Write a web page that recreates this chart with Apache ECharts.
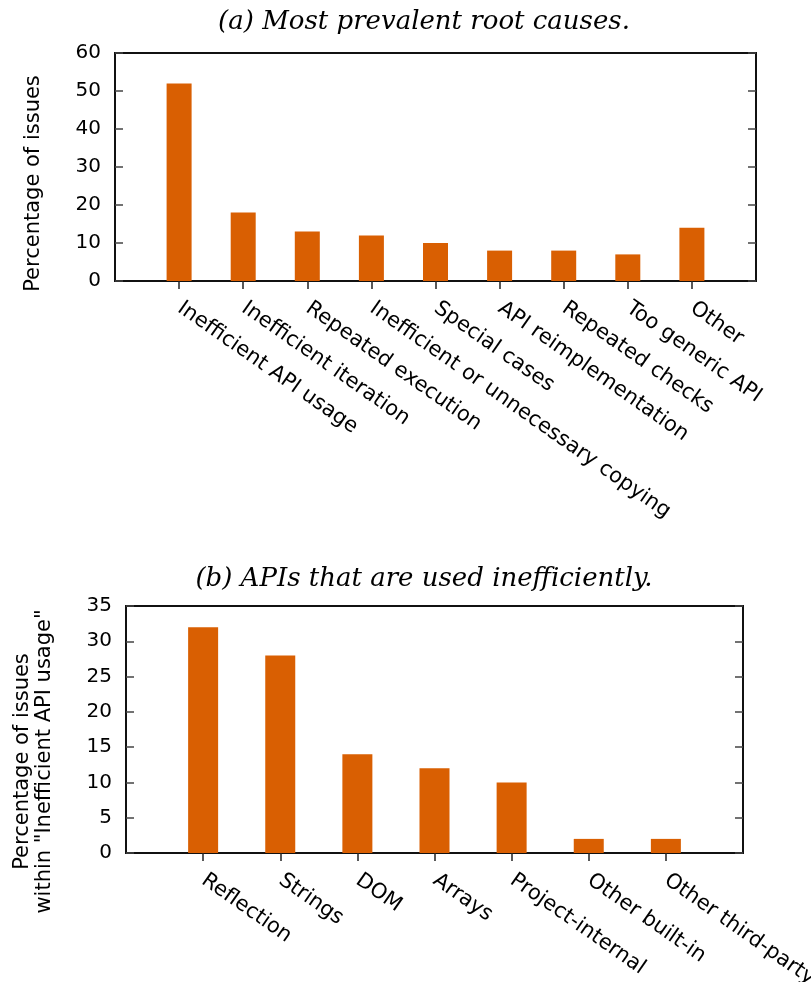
<!DOCTYPE html>
<html>
<head>
<meta charset="utf-8">
<script src="https://cdn.jsdelivr.net/npm/echarts@6/dist/echarts.min.js"></script>
<style>
html,body{margin:0;padding:0;background:#fff;}
#chart{width:811px;height:982px;}
</style>
</head>
<body>
<div id="chart"></div>
<script>
// ---- data ----
const titleA = '(a) Most prevalent root causes.';
const titleB = '(b) APIs that are used inefficiently.';
const catsA = ['Inefficient API usage', 'Inefficient iteration', 'Repeated execution',
  'Inefficient or unnecessary copying', 'Special cases', 'API reimplementation',
  'Repeated checks', 'Too generic API', 'Other'];
const valsA = [52, 18, 13, 12, 10, 8, 8, 7, 14];
const yTicksA = [0, 10, 20, 30, 40, 50, 60];
const yNameA = 'Percentage of issues';

const catsB = ['Reflection', 'Strings', 'DOM', 'Arrays', 'Project-internal',
  'Other built-in', 'Other third-party'];
const valsB = [32, 28, 14, 12, 10, 2, 2];
const yTicksB = [0, 5, 10, 15, 20, 25, 30, 35];
const yNameB = 'Percentage of issues\nwithin "Inefficient API usage"';

// ---- styling ----
const SANS = 'DejaVu Sans';
const BAR = '#D95F02';
const chart = echarts.init(document.getElementById('chart'), null, {renderer: 'canvas'});

function xAxisFor(cats, gridIndex) {
  const n = cats.length;
  return {
    type: 'category', gridIndex: gridIndex,
    data: [''].concat(cats, ['']),
    boundaryGap: false,
    axisLine: {show: false},
    axisTick: {show: true, inside: false, length: 8,
      interval: function (i) { return i > 0 && i <= n; },
      lineStyle: {color: '#222', width: 1.5}},
    axisLabel: {interval: 0, rotate: -35, align: 'left', verticalAlign: 'top',
      margin: 12, padding: [0, 0, 0, 8], hideOverlap: false,
      fontFamily: SANS, fontSize: 21, color: '#000'},
    splitLine: {show: false}
  };
}
function yAxesFor(ticks, name, gridIndex, nameGap, namePad, lineH) {
  const step = ticks[1] - ticks[0];
  const base = {
    type: 'value', gridIndex: gridIndex,
    min: ticks[0], max: ticks[ticks.length - 1], interval: step,
    axisLine: {show: false},
    splitLine: {show: false},
    axisTick: {show: true, inside: true, length: 8, lineStyle: {color: '#444', width: 1.5}}
  };
  return [
    Object.assign({}, base, {
      position: 'left',
      axisLabel: {fontFamily: SANS, fontSize: 20, color: '#000', margin: 14},
      name: name, nameLocation: 'middle', nameRotate: 90, nameGap: nameGap,
      nameTextStyle: {fontFamily: SANS, fontSize: 21, color: '#000',
        lineHeight: lineH, padding: namePad}
    }),
    Object.assign({}, base, {
      position: 'right', axisLabel: {show: false}
    })
  ];
}
function pad(vals) { return ['-'].concat(vals, ['-']); }

const titleStyle = {fontFamily: 'DejaVu Serif', fontStyle: 'italic',
  fontWeight: 'normal', fontSize: 26, color: '#000'};

const option = {
  backgroundColor: '#fff',
  animation: false,
  title: [
    {text: titleA, left: 424, top: 9, textAlign: 'center', textStyle: titleStyle, padding: 0},
    {text: titleB, left: 424, top: 566, textAlign: 'center', textStyle: titleStyle, padding: 0}
  ],
  grid: [
    {left: 115, right: 55, top: 53, height: 228, show: true, containLabel: false,
      outerBoundsMode: 'none',
      borderColor: '#111', borderWidth: 2, backgroundColor: 'transparent'},
    {left: 126, right: 68, top: 606, height: 247, show: true, containLabel: false,
      outerBoundsMode: 'none',
      borderColor: '#111', borderWidth: 2, backgroundColor: 'transparent'}
  ],
  xAxis: [xAxisFor(catsA, 0), xAxisFor(catsB, 1)],
  yAxis: yAxesFor(yTicksA, yNameA, 0, 69, [0, 33, 0, 0], 24)
    .concat(yAxesFor(yTicksB, yNameB, 1, 70, [0, 64, 0, 0], 22)),
  series: [
    {type: 'bar', xAxisIndex: 0, yAxisIndex: 0, data: pad(valsA), barWidth: 25,
      itemStyle: {color: BAR}},
    {type: 'bar', xAxisIndex: 1, yAxisIndex: 2, data: pad(valsB), barWidth: 30,
      itemStyle: {color: BAR}}
  ]
};
chart.setOption(option);
</script>
</body>
</html>
